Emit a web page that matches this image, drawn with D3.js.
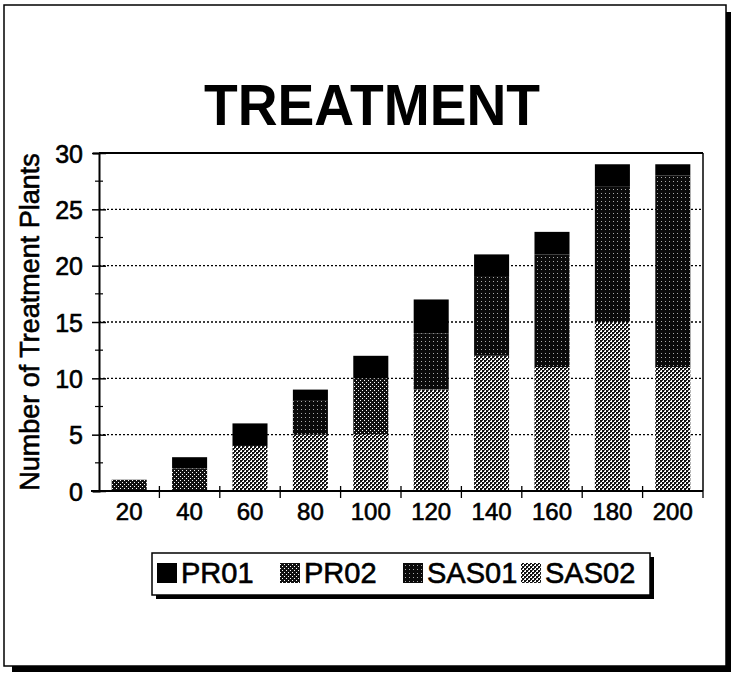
<!DOCTYPE html>
<html><head><meta charset="utf-8">
<script src="https://cdn.jsdelivr.net/npm/d3@7/dist/d3.min.js"></script>
<style>
  body { margin:0; background:#fff; }
  svg { display:block; font-family: "Liberation Sans", Arial, sans-serif; }
  /* scanned print looks heavier than plain Arial */
  .ink { stroke:#000; stroke-width:0.6px; }
</style>
</head><body>
<svg id="chart" width="734" height="674"></svg>
<script>
// data
const categories = ['20', '40', '60', '80', '100', '120', '140', '160', '180', '200'];
const seriesNames = ['PR01', 'PR02', 'SAS01', 'SAS02'];
// stacked bottom → top: SAS02, PR02, SAS01, PR01
const stackOrder = ['SAS02', 'PR02', 'SAS01', 'PR01'];
const PR01  = [0, 1, 2, 1, 2, 3, 2, 2, 2, 1];
const PR02  = [1, 2, 0, 0, 5, 0, 0, 0, 0, 0];
const SAS01 = [0, 0, 0, 3, 0, 5, 7, 10, 12, 17];
const SAS02 = [0, 0, 4, 5, 5, 9, 12, 11, 15, 11];
const yTicks = [0, 5, 10, 15, 20, 25, 30];

const rows = categories.map((c, i) => ({ cat: c, PR01: PR01[i], PR02: PR02[i], SAS01: SAS01[i], SAS02: SAS02[i] }));

const svg = d3.select('#chart');
const m = { left: 99, right: 703, top: 153, bottom: 491 };

// ── fill patterns (scanned halftones) ──
const defs = svg.append('defs');
function pat(id, bg, dots, size) {
  const p = defs.append('pattern').attr('id', id).attr('patternUnits', 'userSpaceOnUse')
    .attr('width', size).attr('height', size);
  p.append('rect').attr('width', size).attr('height', size).attr('fill', bg);
  dots.forEach(([x, y, w, c]) => p.append('rect').attr('x', x).attr('y', y).attr('width', w).attr('height', w).attr('fill', c));
}
pat('pPR01', '#000', [], 4);
pat('pPR02', '#111', [[0, 0, 1, '#fff'], [2, 2, 1, '#fff']], 4);
pat('pSAS01', '#0a0a0a', [[1, 1, 1, '#aaa']], 4);
pat('pSAS02', '#fff', [[0, 0, 2, '#111'], [2, 2, 2, '#111'], [2, 0, 1, '#333'], [0, 2, 1, '#666']], 4);
const fill = { PR01: 'url(#pPR01)', PR02: 'url(#pPR02)', SAS01: 'url(#pSAS01)', SAS02: 'url(#pSAS02)' };

// ── outer frame with drop shadow ──
svg.append('rect').attr('x', 12).attr('y', 12).attr('width', 719).attr('height', 660).attr('fill', '#000');
svg.append('rect').attr('x', 4).attr('y', 5).attr('width', 722).attr('height', 661)
  .attr('fill', '#fff').attr('stroke', '#000').attr('stroke-width', 1.5);

// title
svg.append('text').attr('x', 372).attr('y', 125).attr('text-anchor', 'middle')
  .attr('font-size', 58).attr('font-weight', 'bold').attr('textLength', 336).attr('lengthAdjust', 'spacingAndGlyphs')
  .text('TREATMENT');

const x = d3.scaleBand().domain(categories).range([m.left, m.right]).paddingInner(0.42).paddingOuter(0.21);
const y = d3.scaleLinear().domain([0, 30]).range([m.bottom, m.top]);

// dotted gridlines
svg.append('g').selectAll('line').data(yTicks.filter(t => t > 0 && t < 30)).join('line')
  .attr('x1', m.left).attr('x2', m.right).attr('y1', d => y(d)).attr('y2', d => y(d))
  .attr('stroke', '#000').attr('stroke-width', 1.3).attr('stroke-dasharray', '2,2');

// plot box top / right
svg.append('line').attr('x1', m.left).attr('x2', m.right).attr('y1', y(30)).attr('y2', y(30)).attr('stroke', '#000').attr('stroke-width', 2);
svg.append('line').attr('x1', m.right).attr('x2', m.right).attr('y1', y(30)).attr('y2', y(0)).attr('stroke', '#000').attr('stroke-width', 1.5);

// bars
const stacked = d3.stack().keys(stackOrder)(rows);
svg.append('g').selectAll('g').data(stacked).join('g')
  .attr('fill', d => fill[d.key])
  .selectAll('rect').data(d => d).join('rect')
  .attr('x', d => x(d.data.cat))
  .attr('width', x.bandwidth())
  .attr('y', d => y(d[1]))
  .attr('height', d => y(d[0]) - y(d[1]));

// y axis
const yAxis = svg.append('g').attr('transform', `translate(${m.left},0)`)
  .call(d3.axisLeft(y).tickValues(yTicks).tickSize(6).tickPadding(8));
yAxis.select('.domain').attr('stroke-width', 2);
yAxis.selectAll('.tick line').attr('x2', -7).attr('x1', 7).attr('stroke-width', 1.5);
yAxis.selectAll('.tick text').attr('class', 'ink').attr('font-size', 25)
  .attr('font-family', '"Liberation Sans", Arial, sans-serif').attr('x', -16).attr('dy', '0.36em');
// minor ticks
svg.append('g').selectAll('line').data(d3.range(2.5, 30, 5)).join('line')
  .attr('x1', m.left - 4).attr('x2', m.left + 4).attr('y1', d => y(d)).attr('y2', d => y(d))
  .attr('stroke', '#000').attr('stroke-width', 1.2);

// x axis
svg.append('line').attr('x1', m.left - 8).attr('x2', m.right).attr('y1', y(0)).attr('y2', y(0)).attr('stroke', '#000').attr('stroke-width', 2);
const step = x.step();
svg.append('g').selectAll('line').data(categories.slice(1)).join('line')
  .attr('x1', d => x(d) - (step - x.bandwidth()) / 2).attr('x2', d => x(d) - (step - x.bandwidth()) / 2)
  .attr('y1', y(0) - 5).attr('y2', y(0) + 7).attr('stroke', '#000').attr('stroke-width', 1.3);
svg.append('line').attr('x1', m.right).attr('x2', m.right).attr('y1', y(0)).attr('y2', y(0) + 7).attr('stroke', '#000').attr('stroke-width', 1.3);
svg.append('g').selectAll('text').data(categories).join('text').attr('class', 'ink')
  .attr('x', d => x(d) + x.bandwidth() / 2).attr('y', 520).attr('text-anchor', 'middle')
  .attr('font-size', 24).text(d => d);

// y label
svg.append('text').attr('class', 'ink').attr('transform', 'translate(39,322) rotate(-90)').attr('text-anchor', 'middle')
  .attr('font-size', 27).text('Number of Treatment Plants');

// legend
const lg = svg.append('g');
lg.append('rect').attr('x', 156).attr('y', 557).attr('width', 498).attr('height', 42).attr('fill', '#000');
lg.append('rect').attr('x', 152).attr('y', 553).attr('width', 498).attr('height', 42).attr('fill', '#fff').attr('stroke', '#000').attr('stroke-width', 1.5);
const legendX = [157, 280, 403, 521];
seriesNames.forEach((s, i) => {
  lg.append('rect').attr('x', legendX[i]).attr('y', 563).attr('width', 20).attr('height', 20).attr('fill', fill[s]);
  lg.append('text').attr('class', 'ink').attr('x', legendX[i] + 24).attr('y', 583).attr('font-size', 29).text(s);
});
</script>
</body></html>
